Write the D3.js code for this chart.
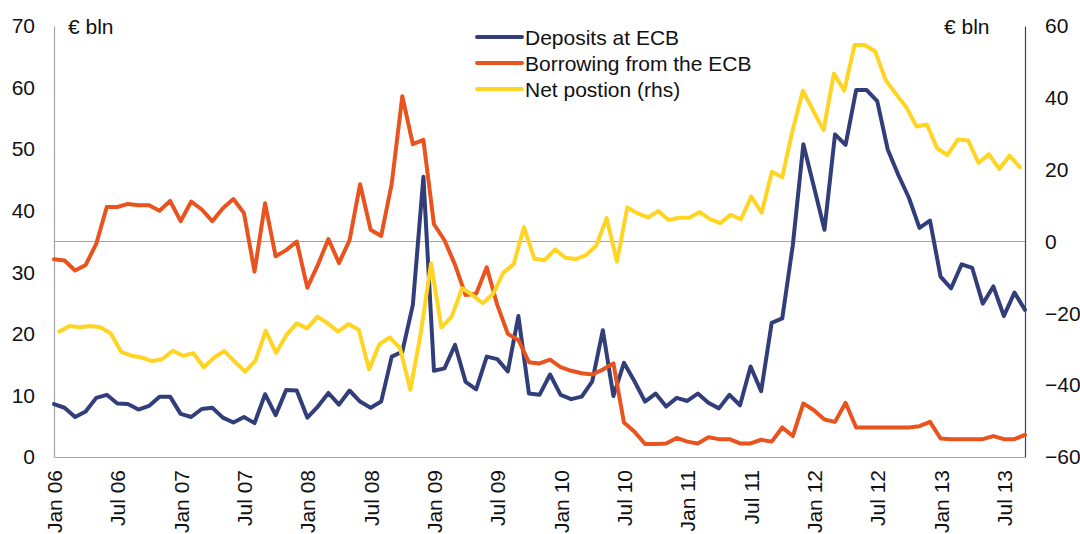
<!DOCTYPE html>
<html>
<head>
<meta charset="utf-8">
<script src="https://cdn.jsdelivr.net/npm/d3@7"></script>
<style>
  body { margin: 0; background: #fff; }
  svg { display: block; font-family: 'Liberation Sans', Arial, sans-serif; }
</style>
</head>
<body>
<svg id="chart" width="1080" height="534"></svg>
<script>
'use strict'

// monthly, Jan 06 - Sep 13
const months = d3.utcMonth.range(new Date(Date.UTC(2006, 0, 1)), new Date(Date.UTC(2013, 9, 1)))
// the net position sits on its own (secondary) category axis, starting one month earlier
const netMonths = d3.utcMonth.range(new Date(Date.UTC(2005, 11, 1)), new Date(Date.UTC(2013, 9, 1)))

const deposits = [
  8.6, 8.0, 6.5, 7.4, 9.6, 10.1, 8.7, 8.6, 7.7, 8.3, 9.8, 9.8,
  7.0, 6.5, 7.8, 8.0, 6.4, 5.6, 6.5, 5.5, 10.2, 6.8, 10.9, 10.8,
  6.4, 8.2, 10.4, 8.5, 10.8, 9.0, 8.0, 9.0, 16.3, 17.1, 24.7, 45.5,
  14.0, 14.4, 18.2, 12.2, 11.0, 16.3, 15.9, 13.9, 22.9, 10.3, 10.1, 13.4,
  10.1, 9.4, 9.8, 12.3, 20.6, 9.9, 15.3, 12.3, 9.0, 10.3, 8.2, 9.6,
  9.1, 10.3, 8.8, 7.9, 10.1, 8.4, 14.7, 10.7, 21.8, 22.5, 34.4, 50.8,
  43.9, 36.9, 52.4, 50.7, 59.6, 59.6, 57.8, 49.9, 45.8, 42.1, 37.2, 38.4,
  29.3, 27.4, 31.3, 30.7, 24.9, 27.7, 22.9, 26.7, 23.9
]

const borrowing = [
  32.1, 31.9, 30.3, 31.2, 34.6, 40.6, 40.6, 41.1, 40.9, 40.9, 40.0, 41.6,
  38.3, 41.5, 40.2, 38.3, 40.4, 41.9, 39.6, 30.1, 41.2, 32.6, 33.6, 35.0,
  27.5, 31.2, 35.4, 31.5, 35.2, 44.3, 36.9, 35.9, 44.4, 58.6, 50.8, 51.5,
  37.8, 35.2, 31.2, 26.3, 26.5, 30.8, 24.7, 20.0, 19.0, 15.4, 15.2, 15.8,
  14.6, 14.0, 13.6, 13.4, 14.2, 15.2, 5.6, 4.1, 2.1, 2.1, 2.2, 3.1,
  2.5, 2.2, 3.2, 2.9, 2.9, 2.2, 2.2, 2.8, 2.5, 4.8, 3.4, 8.7,
  7.6, 6.1, 5.7, 8.8, 4.8, 4.8, 4.8, 4.8, 4.8, 4.8, 5.0, 5.7,
  3.0, 2.9, 2.9, 2.9, 2.9, 3.4, 2.9, 2.9, 3.6
]

const netPosition = [
  -25.1,
  -23.5, -23.9, -23.5, -23.9, -25.6, -30.7, -31.8, -32.3, -33.3, -32.7, -30.4, -31.8,
  -31.1, -35.0, -32.3, -30.5, -33.5, -36.2, -33.2, -24.8, -31.0, -26.0, -22.8, -24.2,
  -20.9, -22.8, -25.1, -23.0, -24.6, -35.6, -28.6, -26.7, -29.7, -41.3, -25.6, -6.1,
  -23.9, -20.9, -13.0, -14.9, -17.2, -14.6, -8.7, -6.3, 4.0, -4.8, -5.2, -2.2,
  -4.5, -4.9, -3.8, -1.1, 6.5, -5.6, 9.5, 7.8, 6.7, 8.5, 6.0, 6.6,
  6.6, 8.2, 6.2, 5.1, 7.4, 6.2, 12.5, 8.0, 19.4, 17.9, 31.0, 42.0,
  36.4, 31.0, 46.8, 42.0, 54.7, 54.7, 52.9, 45.0, 41.1, 37.4, 32.0, 32.6,
  25.9, 24.1, 28.4, 28.1, 21.9, 24.3, 20.2, 23.9, 20.7
]

const tickLabels = ['Jan 06', 'Jul 06', 'Jan 07', 'Jul 07', 'Jan 08', 'Jul 08', 'Jan 09', 'Jul 09',
  'Jan 10', 'Jul 10', 'Jan 11', 'Jul 11', 'Jan 12', 'Jul 12', 'Jan 13', 'Jul 13']
const leftTicks = [0, 10, 20, 30, 40, 50, 60, 70]
const rightTicks = [-60, -40, -20, 0, 20, 40, 60]
const seriesNames = ['Deposits at ECB', 'Borrowing from the ECB', 'Net postion (rhs)']
const seriesColors = ['#323E7A', '#E9531D', '#FFD422']

const plotLeft = 54
const plotRight = 1025
const plotTop = 26
const plotBottom = 457
const axisGray = '#A6A6A6'
const fontSize = 21

let svg = d3.select('#chart')
let parseLabel = d3.utcParse('%b %y')

let x = d3.scalePoint()
  .domain(months)
  .range([plotLeft, plotRight])
let x2 = d3.scalePoint()
  .domain(netMonths)
  .range([plotLeft, plotRight])
  .padding(0.5)
let yL = d3.scaleLinear()
  .domain([0, 70])
  .range([plotBottom, plotTop])
let yR = d3.scaleLinear()
  .domain([-60, 60])
  .range([plotBottom, plotTop])

// zero line of the right axis
svg.append('line')
  .attr('x1', plotLeft)
  .attr('x2', plotRight)
  .attr('y1', yR(0))
  .attr('y2', yR(0))
  .attr('stroke', axisGray)
  .attr('stroke-width', 1.2)

let leftAxis = svg.append('g')
  .attr('class', 'y axis left')
  .attr('transform', 'translate(' + plotLeft + ',0)')
  .call(d3.axisLeft(yL).tickValues(leftTicks).tickSize(0).tickSizeOuter(0).tickPadding(19))
let rightAxis = svg.append('g')
  .attr('class', 'y axis right')
  .attr('transform', 'translate(' + plotRight + ',0)')
  .call(d3.axisRight(yR).tickValues(rightTicks).tickSize(0).tickSizeOuter(0).tickPadding(20))
let xAxis = svg.append('g')
  .attr('class', 'x axis')
  .attr('transform', 'translate(0,' + plotBottom + ')')
  .call(d3.axisBottom(x)
    .tickValues(tickLabels.map(function (d) { return parseLabel(d) }))
    .tickFormat(d3.utcFormat('%b %y'))
    .tickSize(0)
    .tickSizeOuter(0))

svg.selectAll('.axis')
  .attr('font-family', null)
  .attr('font-size', fontSize)
svg.selectAll('.axis text')
  .attr('fill', '#111')
leftAxis.select('.domain')
  .attr('stroke', axisGray)
  .attr('stroke-width', 1.2)
rightAxis.select('.domain')
  .attr('stroke', '#34407E')
  .attr('stroke-width', 1.2)
xAxis.select('.domain')
  .attr('stroke', axisGray)
  .attr('stroke-width', 1.2)
xAxis.selectAll('text')
  .attr('text-anchor', 'end')
  .attr('transform', 'rotate(-90)')
  .attr('x', -13)
  .attr('y', 0)
  .attr('dy', '0.36em')

// unit labels
svg.append('text')
  .attr('x', 68)
  .attr('y', 34)
  .attr('font-size', fontSize)
  .attr('fill', '#111')
  .text('€ bln')
svg.append('text')
  .attr('x', 944)
  .attr('y', 34)
  .attr('font-size', fontSize)
  .attr('fill', '#111')
  .text('€ bln')

let lineL = d3.line()
  .x(function (d, i) { return x(months[i]) })
  .y(function (d) { return yL(d) })
let lineR = d3.line()
  .x(function (d, i) { return x2(netMonths[i]) })
  .y(function (d) { return yR(d) })

let series = [
  {data: deposits, line: lineL},
  {data: borrowing, line: lineL},
  {data: netPosition, line: lineR}
]
svg.selectAll('.series')
  .data(series)
  .enter()
  .append('path')
  .attr('class', 'series')
  .attr('d', function (d) { return d.line(d.data) })
  .attr('fill', 'none')
  .attr('stroke', function (d, i) { return seriesColors[i] })
  .attr('stroke-width', 4)
  .attr('stroke-linejoin', 'round')
  .attr('stroke-linecap', 'round')

let legend = svg.append('g')
  .attr('class', 'legend')
  .attr('transform', 'translate(477,37)')
let item = legend.selectAll('.item')
  .data(seriesNames)
  .enter()
  .append('g')
  .attr('class', 'item')
  .attr('transform', function (d, i) { return 'translate(0,' + i * 26 + ')' })
item.append('line')
  .attr('x1', 0)
  .attr('x2', 45)
  .attr('stroke', function (d, i) { return seriesColors[i] })
  .attr('stroke-width', 4)
  .attr('stroke-linecap', 'round')
item.append('text')
  .attr('x', 48)
  .attr('dy', '0.36em')
  .attr('font-size', fontSize)
  .attr('fill', '#111')
  .text(function (d) { return d })
</script>
</body>
</html>
